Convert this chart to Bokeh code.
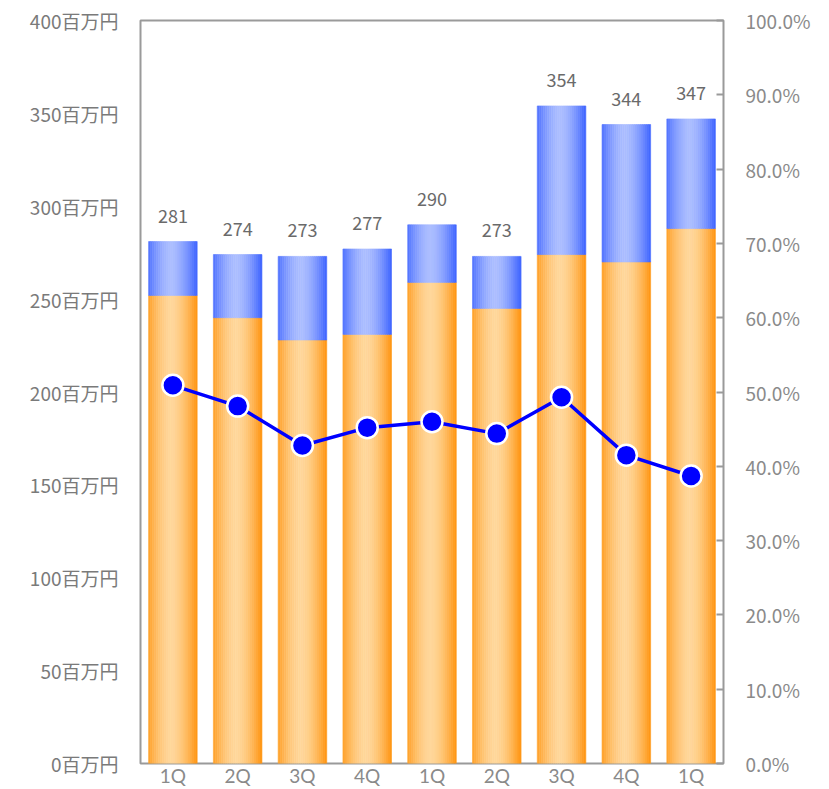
from bokeh.plotting import figure
from bokeh.models import Range1d, LinearAxis, FixedTicker, PrintfTickFormatter, NumeralTickFormatter, ColumnDataSource
from bokeh.core.properties import value
from bokeh.embed import file_html
from bokeh.resources import INLINE

quarters = ["1Q", "2Q", "3Q", "4Q", "1Q", "2Q", "3Q", "4Q", "1Q"]
base_vals = [252, 240, 228, 231, 259, 245, 274, 270, 288]
totals = [281, 274, 273, 277, 290, 273, 354, 344, 347]
ratio = [0.509, 0.481, 0.428, 0.452, 0.460, 0.444, 0.493, 0.415, 0.387]

FONT = "Noto Sans CJK JP"
xs = list(range(len(quarters)))

p = figure(width=825, height=789, output_backend="svg", toolbar_location=None,
           x_range=Range1d(-0.5, len(quarters) - 0.5), y_range=Range1d(0, 400),
           min_border_left=140, min_border_right=102, min_border_top=20, min_border_bottom=26)
p.extra_y_ranges = {"pct": Range1d(0, 1)}
p.xgrid.visible = False
p.ygrid.visible = False
p.outline_line_color = "#9a9a9a"
p.outline_line_width = 2
p.background_fill_color = "white"
p.border_fill_color = "white"


def lerp(c1, c2, f):
    return "#%02x%02x%02x" % tuple(int(round(a + (b - a) * f)) for a, b in zip(c1, c2))

N = 24
W = 0.75
orange_edge, orange_mid = (255, 148, 14), (255, 215, 155)
blue_edge, blue_mid = (60, 98, 255), (172, 190, 255)
sx, sb, st, so, sbl = [], [], [], [], []
for i in xs:
    for k in range(N):
        t = (k + 0.5) / N
        f = max(0.0, 1 - abs((t - 0.47) / 0.53) ** 1.6)
        sx.append(i - W / 2 + t * W)
        sb.append(base_vals[i])
        st.append(totals[i])
        so.append(lerp(orange_edge, orange_mid, f))
        sbl.append(lerp(blue_edge, blue_mid, f))

src = ColumnDataSource(dict(x=sx, base=sb, top=st, oc=so, bc=sbl))
p.vbar(x="x", width=W / N, bottom=0, top="base", fill_color="oc", line_color="oc", line_width=0.6, source=src)
p.vbar(x="x", width=W / N, bottom="base", top="top", fill_color="bc", line_color="bc", line_width=0.6, source=src)

p.text(x=xs, y=totals, text=[str(v) for v in totals], text_align="center", text_baseline="middle",
       y_offset=-26, text_font=value(FONT), text_font_size="18px", text_color="#6a6a6a")

p.line(x=xs, y=ratio, y_range_name="pct", line_color="#0000ff", line_width=3.5)
p.scatter(x=xs, y=ratio, y_range_name="pct", size=21, fill_color="#0000ff", line_color="white", line_width=2.5)

# left axis
ya = p.yaxis[0]
ya.ticker = FixedTicker(ticks=list(range(0, 401, 50)))
ya.formatter = PrintfTickFormatter(format="%d百万円")
ya.axis_line_color = None
ya.major_tick_line_color = None
ya.minor_tick_line_color = None
ya.major_tick_out = 0
ya.major_tick_in = 0
ya.major_label_standoff = 22
ya.major_label_text_font = FONT
ya.major_label_text_font_size = "19px"
ya.major_label_text_color = "#7a7a7a"

# right axis
ra = LinearAxis(y_range_name="pct", ticker=FixedTicker(ticks=[i / 10 for i in range(11)]),
                formatter=NumeralTickFormatter(format="0.0%"))
ra.axis_line_color = None
ra.major_tick_in = 7
ra.major_tick_out = 0
ra.major_tick_line_color = "#9a9a9a"
ra.major_tick_line_width = 2
ra.minor_tick_line_color = None
ra.minor_tick_out = 0
ra.minor_tick_in = 0
ra.major_label_standoff = 22
ra.major_label_text_font = FONT
ra.major_label_text_font_size = "19px"
ra.major_label_text_color = "#8a8a8a"
p.add_layout(ra, "right")

# x axis
xa = p.xaxis[0]
xa.ticker = FixedTicker(ticks=xs)
xa.major_label_overrides = {i: q for i, q in zip(xs, quarters)}
xa.axis_line_color = None
xa.major_tick_line_color = None
xa.minor_tick_line_color = None
xa.major_tick_out = 0
xa.major_tick_in = 0
xa.minor_tick_out = 0
xa.minor_tick_in = 0
xa.major_label_standoff = 0
xa.major_label_text_font = "Lato"
xa.major_label_text_font_size = "19px"
xa.major_label_text_color = "#8a8a8a"

open("out.html", "w").write(file_html(p, INLINE))
